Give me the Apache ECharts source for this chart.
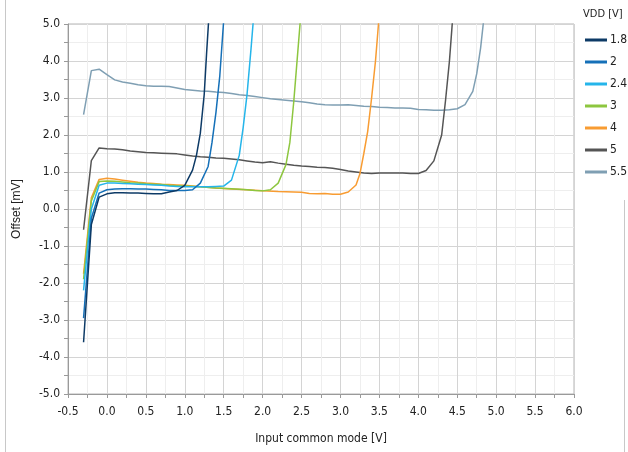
<!DOCTYPE html>
<html>
<head>
<meta charset="utf-8">
<script src="https://cdn.jsdelivr.net/npm/echarts@6/dist/echarts.min.js"></script>
<style>
  html, body { margin: 0; padding: 0; background: #fff; }
  #chart { width: 628px; height: 452px; }
</style>
</head>
<body>
<div id="chart"></div>
<script>
// VDD supply values (legend)
const vddNames = ['1.8', '2', '2.4', '3', '4', '5', '5.5'];
const vddColors = ['#0d3a66', '#1570b8', '#25b5ea', '#8dc63f', '#f89c32', '#555555', '#7f9fb3'];

// offset [mV] against input common mode [V]
const vdd18 = [[-0.3,-3.6],[-0.2,-0.42],[-0.1,0.32],[0,0.41],[0.1,0.44],[0.2,0.44],[0.3,0.43],[0.4,0.43],[0.5,0.42],[0.6,0.41],[0.7,0.41],[0.8,0.46],[0.9,0.5],[1.0,0.64],[1.1,1.05],[1.15,1.45],[1.2,2.05],[1.25,3.1],[1.28,4.2],[1.31,5.2]];
const vdd2 = [[-0.3,-2.95],[-0.2,-0.25],[-0.1,0.43],[0,0.52],[0.1,0.54],[0.2,0.55],[0.3,0.55],[0.4,0.54],[0.5,0.54],[0.6,0.53],[0.7,0.52],[0.8,0.5],[0.9,0.5],[1.0,0.5],[1.1,0.52],[1.2,0.7],[1.3,1.15],[1.35,1.8],[1.4,2.6],[1.45,3.6],[1.5,5.1]];
const vdd24 = [[-0.3,-2.2],[-0.2,0.0],[-0.1,0.64],[0,0.7],[0.1,0.7],[0.2,0.69],[0.3,0.68],[0.4,0.67],[0.5,0.66],[0.6,0.65],[0.7,0.64],[0.8,0.62],[0.9,0.61],[1.0,0.6],[1.1,0.6],[1.2,0.6],[1.3,0.6],[1.4,0.61],[1.5,0.62],[1.6,0.78],[1.7,1.45],[1.75,2.2],[1.8,3.1],[1.85,4.3],[1.9,5.6]];
const vdd3 = [[-0.3,-1.9],[-0.2,0.22],[-0.1,0.74],[0,0.76],[0.1,0.75],[0.2,0.73],[0.3,0.71],[0.4,0.7],[0.5,0.68],[0.6,0.67],[0.7,0.66],[0.8,0.64],[0.9,0.63],[1.0,0.62],[1.2,0.6],[1.4,0.57],[1.6,0.55],[1.8,0.52],[1.9,0.5],[2.0,0.49],[2.1,0.52],[2.2,0.7],[2.3,1.2],[2.35,1.8],[2.4,2.9],[2.45,4.2],[2.5,5.5]];
const vdd4 = [[-0.3,-1.75],[-0.2,0.3],[-0.1,0.8],[0,0.83],[0.1,0.81],[0.2,0.78],[0.3,0.75],[0.4,0.72],[0.5,0.7],[0.6,0.69],[0.7,0.67],[0.8,0.66],[0.9,0.65],[1.0,0.64],[1.2,0.6],[1.4,0.57],[1.6,0.54],[1.8,0.52],[2.0,0.49],[2.2,0.47],[2.4,0.46],[2.5,0.45],[2.6,0.42],[2.7,0.41],[2.8,0.42],[2.9,0.4],[3.0,0.4],[3.1,0.46],[3.2,0.65],[3.25,0.95],[3.3,1.5],[3.35,2.1],[3.4,3.0],[3.45,4.0],[3.5,5.3]];
const vdd5 = [[-0.3,-0.56],[-0.2,1.31],[-0.1,1.65],[0,1.63],[0.1,1.62],[0.2,1.6],[0.3,1.57],[0.4,1.55],[0.5,1.53],[0.6,1.52],[0.7,1.51],[0.8,1.5],[0.9,1.49],[1.0,1.46],[1.1,1.43],[1.2,1.41],[1.3,1.4],[1.4,1.38],[1.5,1.37],[1.6,1.35],[1.7,1.33],[1.8,1.3],[1.9,1.27],[2.0,1.25],[2.1,1.28],[2.2,1.24],[2.3,1.21],[2.4,1.18],[2.5,1.16],[2.6,1.15],[2.7,1.13],[2.8,1.12],[2.9,1.1],[3.0,1.07],[3.1,1.03],[3.2,1.0],[3.3,0.97],[3.4,0.96],[3.5,0.97],[3.6,0.97],[3.7,0.97],[3.8,0.97],[3.9,0.96],[4.0,0.96],[4.1,1.04],[4.2,1.3],[4.3,2.0],[4.35,2.94],[4.4,4.0],[4.45,5.4]];
const vdd55 = [[-0.3,2.55],[-0.2,3.74],[-0.1,3.78],[0,3.63],[0.1,3.49],[0.2,3.43],[0.3,3.4],[0.4,3.36],[0.5,3.33],[0.6,3.32],[0.7,3.32],[0.8,3.31],[0.9,3.27],[1.0,3.23],[1.1,3.21],[1.2,3.19],[1.3,3.18],[1.4,3.16],[1.5,3.15],[1.6,3.12],[1.7,3.09],[1.8,3.07],[1.9,3.04],[2.0,3.01],[2.1,2.98],[2.2,2.96],[2.3,2.94],[2.4,2.92],[2.5,2.9],[2.6,2.87],[2.7,2.84],[2.8,2.82],[2.9,2.81],[3.0,2.81],[3.1,2.82],[3.2,2.8],[3.3,2.78],[3.4,2.77],[3.5,2.75],[3.6,2.74],[3.7,2.73],[3.8,2.73],[3.9,2.72],[4.0,2.69],[4.1,2.68],[4.2,2.67],[4.3,2.67],[4.4,2.68],[4.5,2.71],[4.6,2.82],[4.7,3.18],[4.75,3.65],[4.8,4.35],[4.85,5.3]];

const curves = [vdd18, vdd2, vdd24, vdd3, vdd4, vdd5, vdd55];

const labelFont = "'Liberation Sans Narrow', 'DejaVu Sans Condensed', 'Liberation Sans', sans-serif";

var myChart = echarts.init(document.getElementById('chart'));

var option = {
  animation: false,
  title: {
    text: 'VDD [V]',
    left: 578,
    top: 4,
    textStyle: { fontSize: 11, fontWeight: 'normal', color: '#222', fontFamily: labelFont },
  },
  legend: {
    orient: 'vertical',
    left: 580,
    top: 29,
    itemWidth: 22,
    itemHeight: 3,
    itemGap: 10,
    icon: 'rect',
    textStyle: { fontSize: 12, color: '#222', fontFamily: labelFont, padding: [0, 0, 0, -2] },
    data: vddNames,
  },
  grid: {
    left: 68,
    right: 54,
    top: 24,
    bottom: 58,
    show: true,
    borderColor: '#b4b4b4',
    borderWidth: 1,
  },
  xAxis: {
    type: 'value',
    min: -0.5,
    max: 6,
    interval: 0.5,
    name: 'Input common mode [V]',
    nameLocation: 'middle',
    nameGap: 39,
    nameTextStyle: { fontSize: 12, color: '#222', fontFamily: labelFont },
    axisLine: { show: true, onZero: false, lineStyle: { color: '#9a9a9a' } },
    axisTick: { show: true, length: 4, lineStyle: { color: '#9a9a9a' } },
    minorTick: { show: true, splitNumber: 2, length: 4, lineStyle: { color: '#9a9a9a' } },
    axisLabel: {
      margin: 12,
      fontSize: 12,
      color: '#222',
      fontFamily: labelFont,
      formatter: (v) => v.toFixed(1),
    },
    splitLine: { show: true, lineStyle: { color: '#d4d4d4' } },
    minorSplitLine: { show: true, lineStyle: { color: '#eeeeee' } },
  },
  yAxis: {
    type: 'value',
    min: -5,
    max: 5,
    interval: 1,
    name: 'Offset [mV]',
    nameLocation: 'middle',
    nameGap: 45,
    nameTextStyle: { fontSize: 12, color: '#222', fontFamily: "'Liberation Sans', Arial, sans-serif" },
    axisLine: { show: true, onZero: false, lineStyle: { color: '#9a9a9a' } },
    axisTick: { show: true, length: 4, lineStyle: { color: '#9a9a9a' } },
    minorTick: { show: true, splitNumber: 2, length: 4, lineStyle: { color: '#9a9a9a' } },
    axisLabel: {
      margin: 8,
      fontSize: 12,
      color: '#222',
      fontFamily: labelFont,
      formatter: (v) => v.toFixed(1),
    },
    splitLine: { show: true, lineStyle: { color: '#d4d4d4' } },
    minorSplitLine: { show: true, lineStyle: { color: '#eeeeee' } },
  },
  graphic: [
    { type: 'line', shape: { x1: 5.5, y1: 0, x2: 5.5, y2: 452 }, style: { stroke: '#c8c8c8', lineWidth: 1 } },
    { type: 'line', shape: { x1: 624.5, y1: 200, x2: 624.5, y2: 452 }, style: { stroke: '#c8c8c8', lineWidth: 1 } },
  ],
  series: curves.map((d, i) => ({
    name: vddNames[i],
    type: 'line',
    data: d,
    symbol: 'none',
    clip: true,
    color: vddColors[i],
    lineStyle: { width: 1.5, color: vddColors[i] },
    z: 10 - i,
  })),
};

myChart.setOption(option);
</script>
</body>
</html>
